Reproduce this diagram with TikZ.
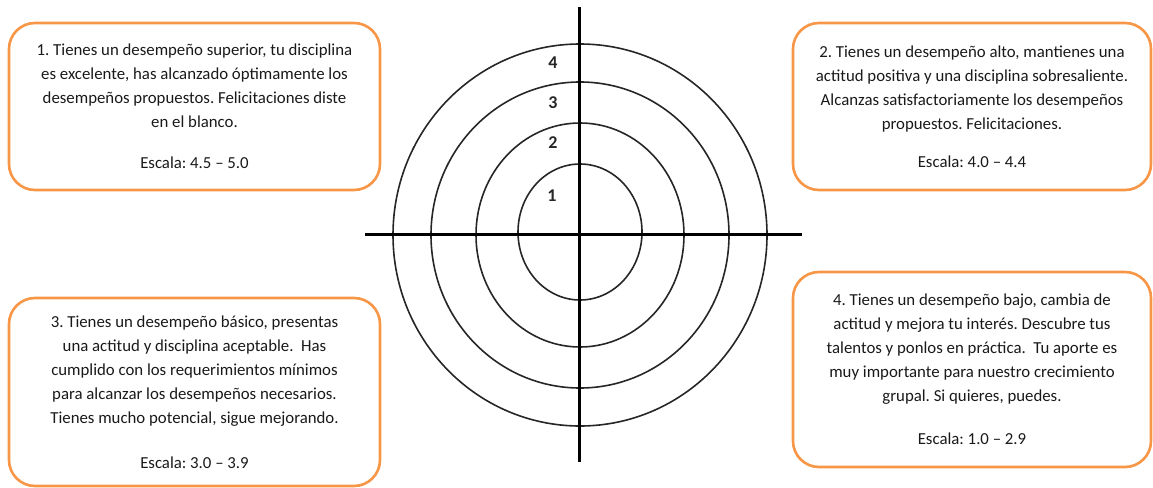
\documentclass[tikz,border=0pt]{standalone}
\usepackage{fontspec}
\setmainfont{Carlito}
\definecolor{escnaranja}{RGB}{247,150,70}
\begin{document}
\frenchspacing
\begin{tikzpicture}[x=1pt, y=-1pt,
    caja/.style={draw=escnaranja, line width=2.6pt, rounded corners=26pt, align=center,
        inner sep=0pt, text=black!90, font=\fontsize{16.8}{24}\selectfont},
    aro/.style={line width=1.6pt, black!85},
    eje/.style={line width=3pt, black},
    nivel/.style={text=black!85, font=\fontsize{18}{18}\selectfont\bfseries}]
    \useasboundingbox (0,0) rectangle (1153,487);

    % 1. Target centre and the ends of the cross
    \coordinate (c) at (580,235);
    \coordinate (ejeL) at (365,234);
    \coordinate (ejeR) at (802,234);
    \coordinate (ejeT) at (579,7);
    \coordinate (ejeB) at (579,462);

    % 2. Rings of the target
    \draw[aro] (c) ellipse [x radius=187pt, y radius=191pt];
    \draw[aro] (c) ellipse [x radius=149pt, y radius=153pt];
    \draw[aro] (c) ellipse [x radius=104pt, y radius=112pt];
    \draw[aro] ([yshift=3pt]c) ellipse [x radius=62pt, y radius=68pt];

    % 3. The cross
    \draw[eje] (ejeL) -- (ejeR);
    \draw[eje] (ejeT) -- (ejeB);

    % 4. Ring numbers
    \node[nivel] (n4) at (553,63) {4};
    \node[nivel] (n3) at (553,103) {3};
    \node[nivel] (n2) at (553,143) {2};
    \node[nivel] (n1) at (552,196) {1};

    % 5. The four levels
    \node[caja, minimum width=371pt, minimum height=167pt] (nivel1) at (194.5,106.5) {%
        1. Tienes un desempeño superior, tu disciplina\\
        es excelente, has alcanzado óptimamente los\\
        desempeños propuestos. Felicitaciones diste\\
        en el blanco.\\[17pt]
        Escala: 4.5 – 5.0};
    \node[caja, minimum width=358pt, minimum height=167pt] (nivel2) at (972,106.5) {%
        2. Tienes un desempeño alto, mantienes una\\
        actitud positiva y una disciplina sobresaliente.\\
        Alcanzas satisfactoriamente los desempeños\\
        propuestos. Felicitaciones.\\[14pt]
        Escala: 4.0 – 4.4};
    \node[caja, minimum width=371pt, minimum height=188pt] (nivel3) at (194.5,392) {%
        3. Tienes un desempeño básico, presentas\\
        una actitud y disciplina aceptable.\ \ Has\\
        cumplido con los requerimientos mínimos\\
        para alcanzar los desempeños necesarios.\\
        Tienes mucho potencial, sigue mejorando.\\[21pt]
        Escala: 3.0 – 3.9};
    \node[caja, minimum width=358pt, minimum height=195pt] (nivel4) at (972,369.5) {%
        4. Tienes un desempeño bajo, cambia de\\
        actitud y mejora tu interés. Descubre tus\\
        talentos y ponlos en práctica.\ \ Tu aporte es\\
        muy importante para nuestro crecimiento\\
        grupal. Si quieres, puedes.\\[19pt]
        Escala: 1.0 – 2.9};
\end{tikzpicture}
\end{document}
